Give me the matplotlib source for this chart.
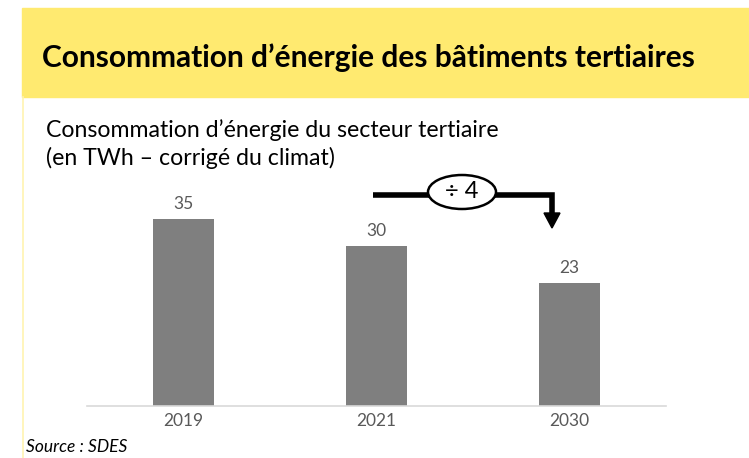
import matplotlib.pyplot as plt
from matplotlib.patches import Rectangle, Ellipse, Polygon

# data
years = ["2019", "2021", "2030"]
consumption_twh = [35, 30, 23]

TITLE = "Consommation d\u2019énergie des bâtiments tertiaires"
SUBTITLE = "Consommation d\u2019énergie du secteur tertiaire\n(en TWh \u2013 corrigé du climat)"
SOURCE = "Source : SDES"

W, H = 749, 458
YELLOW = "#FFEA70"
BAR_COLOR = "#7F7F7F"
TEXT_GRAY = "#595959"

plt.rcParams["font.family"] = ["Lato", "DejaVu Sans"]

fig = plt.figure(figsize=(W / 100, H / 100), dpi=100)

# overlay axes in pixel coordinates (y down) for the decorations
deco = fig.add_axes([0, 0, 1, 1])
deco.set_xlim(0, W)
deco.set_ylim(H, 0)
deco.axis("off")

deco.add_patch(Rectangle((22, 8), W - 22, 89, color=YELLOW, zorder=0))
deco.plot([23, 23], [97, H], color="#FFF3B0", lw=1.2, zorder=0)
deco.text(42, 58, TITLE, fontsize=21.5, fontweight="bold", va="center", ha="left", color="black")
deco.text(46, 144, SUBTITLE, fontsize=16.7, va="center", ha="left", color="black", linespacing=1.3)
deco.text(26, 447, SOURCE, fontsize=12.5, style="italic", va="center", ha="left", color="black")

# "÷ 4" arrow
deco.plot([373, 552, 552], [195, 195, 214], color="black", lw=4, solid_capstyle="butt",
          solid_joinstyle="miter", zorder=2)
deco.add_patch(Polygon([[544, 213], [560, 213], [552, 228]], closed=True, color="black", zorder=2))
deco.add_patch(Ellipse((462, 192), 68, 34, facecolor="white", edgecolor="black", lw=1.8, zorder=3))
deco.text(462, 192, "÷ 4", fontsize=17, ha="center", va="center", color="black", zorder=4)

# bar chart
px_per_unit = 187 / 35
ymax = 40
ax_h = ymax * px_per_unit
ax = fig.add_axes([87 / W, (H - 406) / H, (666 - 87) / W, ax_h / H])
ax.patch.set_alpha(0)
x = range(len(years))
bars = ax.bar(x, consumption_twh, width=0.316, color=BAR_COLOR, zorder=2)
for b, v in zip(bars, consumption_twh):
    ax.text(b.get_x() + b.get_width() / 2, v + 1.3, str(v), ha="center", va="bottom",
            fontsize=12.5, color=TEXT_GRAY)
ax.set_xlim(-0.5, 2.5)
ax.set_ylim(0, ymax)
ax.set_xticks(list(x))
ax.set_xticklabels(years, fontsize=12.5, color=TEXT_GRAY)
ax.tick_params(axis="x", length=0, pad=5)
ax.set_yticks([])
for side in ["top", "right", "left"]:
    ax.spines[side].set_visible(False)
ax.spines["bottom"].set_color("#D9D9D9")
ax.spines["bottom"].set_linewidth(1.2)

fig.savefig("out.png", dpi=100)
